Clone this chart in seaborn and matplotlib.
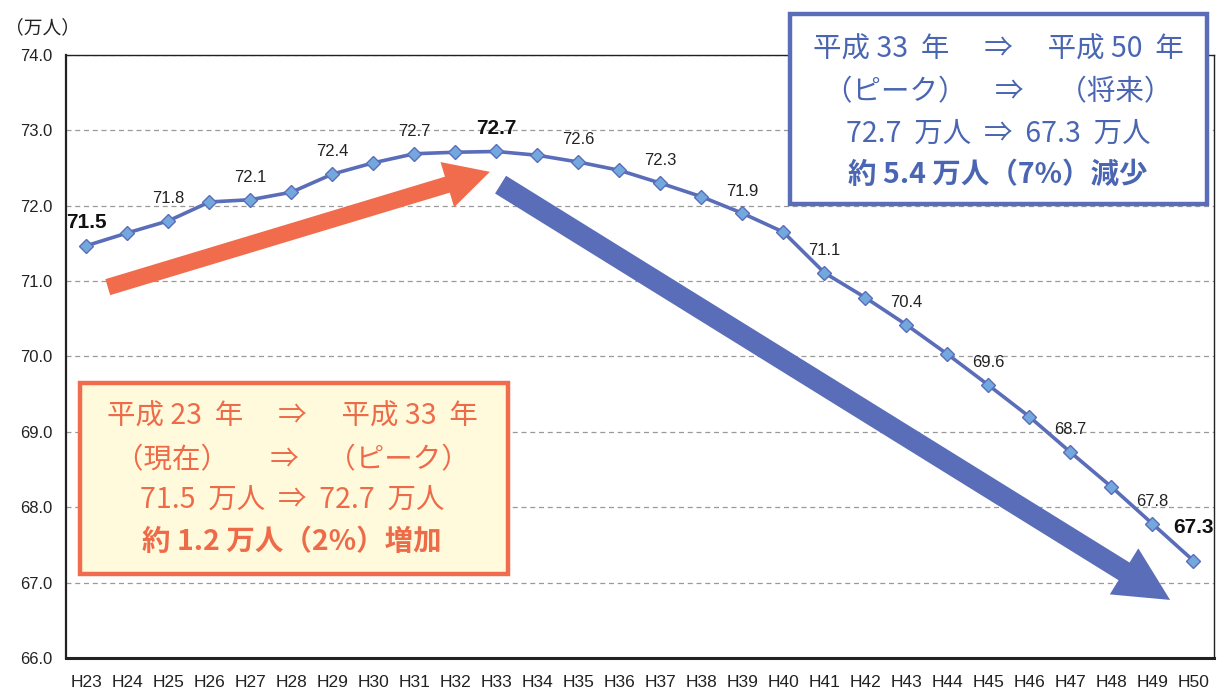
import matplotlib
matplotlib.use('Agg')
import matplotlib.pyplot as plt
from matplotlib.patches import Rectangle
import numpy as np
import pandas as pd
import seaborn as sns

# population forecast (万人), H23 - H50
years = ['H23', 'H24', 'H25', 'H26', 'H27', 'H28', 'H29', 'H30', 'H31', 'H32',
         'H33', 'H34', 'H35', 'H36', 'H37', 'H38', 'H39', 'H40', 'H41', 'H42',
         'H43', 'H44', 'H45', 'H46', 'H47', 'H48', 'H49', 'H50']
population = [71.47, 71.64, 71.80, 72.05, 72.08, 72.18, 72.42, 72.57, 72.69, 72.71,
              72.72, 72.67, 72.58, 72.47, 72.30, 72.12, 71.90, 71.65, 71.11, 70.78,
              70.42, 70.03, 69.62, 69.20, 68.73, 68.27, 67.78, 67.29]
label_years = ['H25', 'H27', 'H29', 'H31', 'H35', 'H37', 'H39', 'H41', 'H43',
               'H45', 'H47', 'H49']
bold_years = ['H23', 'H33', 'H50']

rise_lines = ['平成 23  年　 ⇒ 　平成 33  年', '（現在）　  ⇒　（ピーク）',
              '71.5  万人  ⇒  72.7  万人', '約 1.2 万人（2%）増加']
fall_lines = ['平成 33  年　 ⇒ 　平成 50  年', '（ピーク）　⇒　 （将来）',
              '72.7  万人  ⇒  67.3  万人', '約 5.4 万人（7%）減少']

line_blue = '#5A6DB8'
marker_blue = '#72A8DE'
orange = '#F06C4C'
text_orange = '#EE6B4A'
text_blue = '#4A66B2'
narrow = ['Liberation Sans Narrow', 'Liberation Sans', 'DejaVu Sans']

sns.set_theme(style='white')
plt.rcParams['font.family'] = ['Noto Sans CJK JP', 'DejaVu Sans']

df = pd.DataFrame({'pos': np.arange(len(years)), 'pop': population})

fig = plt.figure(figsize=(12.17, 6.91), dpi=100)
ax = fig.add_axes([0.0542, 0.0478, 0.9433, 0.8726])

sns.lineplot(data=df, x='pos', y='pop', ax=ax, color=line_blue, lw=2.6,
             marker='D', markersize=7.5, markerfacecolor=marker_blue,
             markeredgecolor=line_blue, markeredgewidth=1, zorder=4)

ax.set_xlim(-0.5, len(years) - 0.5)
ax.set_ylim(66, 74)
ax.set_xlabel('')
ax.set_ylabel('')

ax.set_yticks(np.arange(66, 75, 1))
ax.set_yticklabels([f'{v:.1f}' for v in np.arange(66, 75, 1)], family=narrow, fontsize=12)
ax.set_xticks(np.arange(len(years)))
ax.set_xticklabels(years, family=narrow, fontsize=12.5)
ax.set_xticks(np.arange(0.5, len(years) - 0.5, 1), minor=True)
ax.tick_params(axis='x', which='major', length=0, pad=12, colors='#222222')
ax.tick_params(axis='x', which='minor', direction='in', length=5, width=1, color='#222222')
ax.tick_params(axis='y', length=0, pad=10, colors='#222222')

ax.yaxis.grid(True, linestyle=(0, (4, 3)), color='#999999', lw=0.9)
ax.xaxis.grid(False)
for side, lw in [('left', 1.6), ('bottom', 2.2), ('top', 1.0), ('right', 1.0)]:
    ax.spines[side].set_color('#222222')
    ax.spines[side].set_linewidth(lw)

# data labels
for y in label_years:
    i = years.index(y)
    ax.annotate(f'{population[i]:.1f}', (i, population[i]), xytext=(0, 16),
                textcoords='offset points', ha='center', va='center',
                family=narrow, fontsize=12, color='#222222', zorder=5)
for y in bold_years:
    i = years.index(y)
    off = 24 if y == 'H50' else 16.5
    ax.annotate(f'{population[i]:.1f}', (i, population[i]), xytext=(0, off),
                textcoords='offset points', ha='center', va='center',
                family=narrow, fontsize=15, fontweight='bold', color='#111111', zorder=5)

# trend arrows
ax.annotate('', xy=(9.84, 72.45), xytext=(0.52, 70.92),
            arrowprops=dict(arrowstyle='simple,tail_width=0.6,head_width=1.7,head_length=1.6',
                            mutation_scale=20, color=orange, lw=0, shrinkA=0, shrinkB=0),
            zorder=3)
ax.annotate('', xy=(26.43, 66.77), xytext=(10.1, 72.28),
            arrowprops=dict(arrowstyle='simple,tail_width=0.75,head_width=1.95,head_length=1.95',
                            mutation_scale=20, color=line_blue, lw=0, shrinkA=0, shrinkB=0),
            zorder=3)

# unit label
fig.text(0.004, 0.960, '（万人）', fontsize=13.5, color='#222222', ha='left', va='center')

# summary boxes
fig.add_artist(Rectangle((0.0657, 0.1693), 0.3517, 0.2764, transform=fig.transFigure,
                         facecolor='#FFFADC', edgecolor=orange, lw=3.2, zorder=6))
for k, (txt, yy) in enumerate(zip(rise_lines, [0.3965, 0.3343, 0.2764, 0.2156])):
    fig.text(0.2399, yy, txt, ha='center', va='center', fontsize=20.5, color=text_orange,
             fontweight='bold' if k == 3 else 'normal', zorder=7)

fig.add_artist(Rectangle((0.6491, 0.7048), 0.3426, 0.2750, transform=fig.transFigure,
                         facecolor='white', edgecolor=line_blue, lw=3.2, zorder=6))
for k, (txt, yy) in enumerate(zip(fall_lines, [0.9276, 0.8669, 0.8071, 0.7467])):
    fig.text(0.820, yy, txt, ha='center', va='center', fontsize=20.5, color=text_blue,
             fontweight='bold' if k == 3 else 'normal', zorder=7)

fig.savefig('out.png', dpi=100)
